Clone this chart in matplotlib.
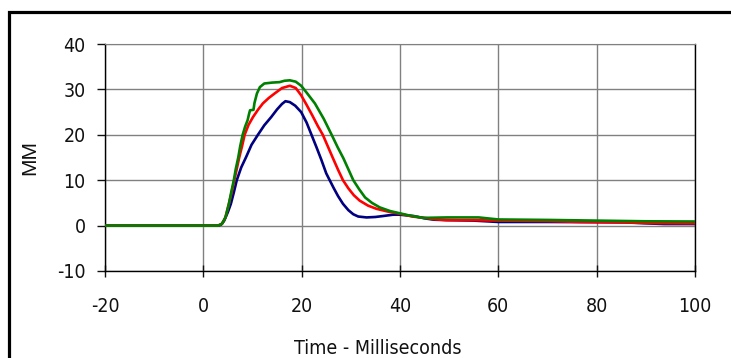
import matplotlib.pyplot as plt
from matplotlib import font_manager
from matplotlib.patches import Rectangle

# time axis (ms) and the three traces
t_blue = [-20, 3.0, 3.6, 4.2, 5.0, 5.6, 6.2, 6.8, 7.7, 8.7, 9.8, 11.1, 12.4, 13.8, 15.0, 16.0,
          16.7, 17.6, 18.7, 19.9, 21.0, 22.0, 23.0, 24.0, 25.0, 25.7, 26.5, 27.4, 28.4, 29.5,
          30.5, 31.5, 33.2, 35.0, 36.5, 38.6, 40.0, 42.8, 45.0, 46.9, 50, 55, 60, 70, 80, 86,
          90, 93.7, 100]
v_blue = [0, 0, 0.2, 1.0, 3.0, 4.8, 7.3, 10.0, 12.8, 15.1, 17.8, 20.0, 22.1, 23.9, 25.6, 26.8,
          27.4, 27.2, 26.4, 25.0, 22.7, 20.0, 17.3, 14.5, 11.5, 10.0, 8.3, 6.5, 4.8, 3.4,
          2.5, 2.0, 1.8, 1.9, 2.1, 2.4, 2.4, 2.1, 1.6, 1.3, 1.2, 1.1, 0.8, 0.8, 0.75, 0.7,
          0.5, 0.35, 0.35]

t_red = [-20, 3.0, 3.8, 4.5, 5.2, 5.8, 6.3, 6.8, 7.3, 7.9, 8.4, 9.2, 10.1, 11.1, 12.1, 13.3,
         14.5, 16.0, 17.6, 18.8, 19.9, 21.0, 22.2, 23.3, 24.3, 25.3, 26.3, 27.4, 28.4, 29.5,
         30.6, 31.8, 33.5, 35.2, 37.5, 40.0, 42.5, 45.0, 47.0, 49.4, 55, 60, 70, 76.8, 85,
         92, 100]
v_red = [0, 0, 0.4, 1.8, 4.8, 7.5, 10.0, 12.5, 15.0, 17.6, 20.0, 22.2, 23.9, 25.5, 26.9, 28.1,
         29.1, 30.3, 30.8, 30.3, 28.7, 26.6, 24.2, 21.9, 20.0, 17.5, 15.0, 12.3, 10.0, 8.2,
         6.7, 5.5, 4.4, 3.7, 3.1, 2.6, 2.0, 1.7, 1.4, 1.2, 1.2, 1.1, 1.0, 0.8, 0.7,
         0.55, 0.5]

t_green = [-20, 3.0, 3.8, 4.5, 5.2, 5.7, 6.2, 6.6, 7.1, 7.5, 8.0, 8.5, 9.0, 9.3, 9.5, 10.2,
           10.4, 10.9, 11.5, 12.4, 14.0, 15.5, 16.5, 17.6, 18.8, 19.9, 21.0, 22.7, 24.5, 26.1,
           27.3, 28.5, 29.5, 30.5, 31.7, 32.9, 34.3, 35.9, 38.0, 40.0, 42.0, 44.8, 49.5, 56,
           60, 70, 80, 90, 100]
v_green = [0, 0, 0.4, 1.8, 4.8, 7.5, 10.0, 12.5, 15.0, 17.5, 20.0, 21.8, 23.2, 24.6, 25.4, 25.5,
           27.0, 29.1, 30.5, 31.3, 31.5, 31.6, 31.9, 32.0, 31.7, 30.8, 29.3, 26.9, 23.5, 20.0,
           17.3, 14.8, 12.4, 10.0, 8.0, 6.2, 5.0, 4.0, 3.2, 2.7, 2.2, 1.7, 1.8, 1.8,
           1.35, 1.25, 1.1, 0.95, 0.9]

x_ticks = [-20, 0, 20, 40, 60, 80, 100]
y_ticks = [-10, 0, 10, 20, 30, 40]

# look for a narrow sans face (the original uses Arial Narrow)
narrow = None
for f in font_manager.fontManager.ttflist:
    name = f.fname.lower()
    if ('narrow' in name or 'condensed' in name) and 'bold' not in name and 'italic' not in name \
            and 'oblique' not in name and 'mono' not in name and 'serif' not in name:
        narrow = f.fname
        break
if narrow:
    tick_font = font_manager.FontProperties(fname=narrow)
else:
    tick_font = font_manager.FontProperties(family=['Liberation Sans', 'DejaVu Sans'])

plt.rcParams['font.family'] = ['Liberation Sans', 'DejaVu Sans']
plt.rcParams['axes.unicode_minus'] = False

fig = plt.figure(figsize=(7.31, 3.58), dpi=100)
ax = fig.add_axes([105 / 731, 1 - 271 / 358, 590 / 731, 227 / 358])

ax.plot(t_blue, v_blue, color='#000080', lw=1.9, zorder=3)
ax.plot(t_red, v_red, color='#ff0000', lw=1.9, zorder=4)
ax.plot(t_green, v_green, color='#008000', lw=1.9, zorder=5)

ax.set_xlim(-20, 100)
ax.set_ylim(-10, 40)
ax.set_xticks(x_ticks)
ax.set_yticks(y_ticks)
ax.grid(True, color='#808080', lw=1.0)
ax.set_axisbelow(True)

for side in ['left', 'bottom', 'right']:
    ax.spines[side].set_color('black')
    ax.spines[side].set_linewidth(1.0)
ax.spines['top'].set_color('#808080')

ax.tick_params(axis='y', direction='out', length=6, width=1, pad=8, colors='#111111')
ax.tick_params(axis='x', direction='inout', length=8, width=1, pad=15, colors='#111111')
for lab in ax.get_xticklabels() + ax.get_yticklabels():
    lab.set_fontproperties(tick_font)
    lab.set_fontsize(14 if narrow else 13)

ax.set_ylabel('MM', fontsize=15, color='#111111')
ax.yaxis.label.set_verticalalignment('center')
ax.yaxis.set_label_coords((30 - 105) / 590, 0.5)

ax.set_xlabel('Time - Milliseconds', color='#111111')
ax.xaxis.label.set_fontproperties(tick_font)
ax.xaxis.label.set_fontsize(14 if narrow else 13)
ax.xaxis.label.set_verticalalignment('center')
ax.xaxis.set_label_coords((378 - 105) / 590, -(348 - 271) / 227)

# outer chart frame (runs off the right and bottom edges)
fig.patches.append(Rectangle((8.5 / 731, -0.1), 1.2, 1 - 11.5 / 358 + 0.1,
                             transform=fig.transFigure, fill=False, ec='black', lw=2.3))

plt.savefig('out.png', dpi=100)
